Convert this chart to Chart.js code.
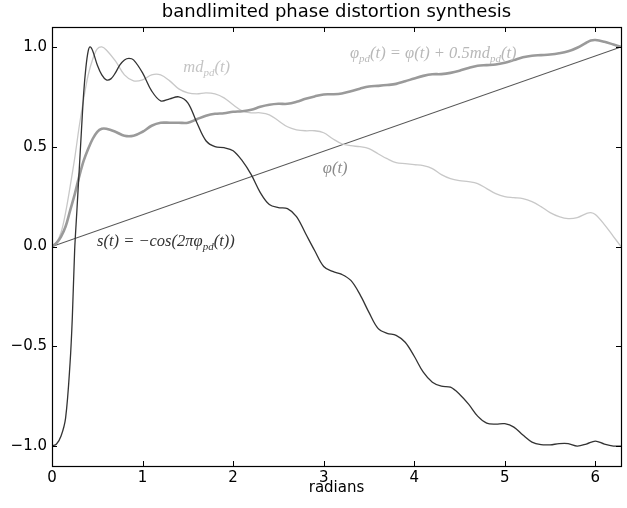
<!DOCTYPE html>
<html>
<head>
<meta charset="utf-8">
<script src="https://cdn.jsdelivr.net/npm/chart.js@4"></script>
<style>
html,body{margin:0;padding:0;background:#fff;}
#wrap{width:627px;height:508px;}
</style>
</head>
<body>
<div id="wrap"><canvas id="c" width="627" height="508"></canvas></div>
<script>
const titleText = "bandlimited phase distortion synthesis";
const xLabel = "radians";
const xTicks = [0, 1, 2, 3, 4, 5, 6];
const yTicks = [-1.0, -0.5, 0.0, 0.5, 1.0];

// phi(t)
const tPhi = [0, 6.2832];
const phiVals = [0, 1];

// md_pd(t) and phi_pd(t)
const tMd = [0,0.05,0.1,0.15,0.2,0.25,0.3,0.35,0.4,0.45,0.5,0.55,0.6,0.7,0.8,0.9,1.0,1.1,1.2,1.3,1.4,1.5,1.6,1.7,1.8,1.9,2.0,2.1,2.2,2.3,2.4,2.5,2.6,2.7,2.8,2.9,3.0,3.1,3.2,3.3,3.4,3.5,3.6,3.7,3.8,3.9,4.0,4.1,4.2,4.3,4.4,4.5,4.6,4.7,4.8,4.9,5.0,5.1,5.2,5.3,5.4,5.5,5.6,5.7,5.8,5.9,5.95,6.0,6.1,6.2,6.2832];
const mdVals = [0,0.02,0.07,0.17,0.30,0.44,0.60,0.74,0.86,0.94,0.99,1.0,0.985,0.93,0.86,0.83,0.835,0.86,0.86,0.83,0.79,0.77,0.765,0.77,0.765,0.745,0.71,0.68,0.67,0.67,0.66,0.63,0.60,0.585,0.58,0.58,0.57,0.54,0.515,0.505,0.50,0.49,0.465,0.44,0.42,0.415,0.41,0.405,0.39,0.36,0.34,0.33,0.325,0.315,0.29,0.265,0.25,0.245,0.24,0.225,0.20,0.17,0.15,0.14,0.145,0.165,0.17,0.16,0.11,0.05,0.0];
const pdVals = [0,0.018,0.05,0.10,0.18,0.26,0.35,0.43,0.49,0.54,0.575,0.59,0.59,0.575,0.555,0.555,0.575,0.605,0.62,0.62,0.62,0.62,0.638,0.655,0.665,0.668,0.675,0.678,0.685,0.70,0.71,0.715,0.715,0.725,0.74,0.752,0.762,0.763,0.767,0.778,0.791,0.802,0.805,0.809,0.815,0.828,0.842,0.855,0.863,0.864,0.870,0.881,0.895,0.906,0.909,0.912,0.921,0.934,0.948,0.956,0.959,0.962,0.968,0.978,0.996,1.021,1.032,1.035,1.026,1.012,1.0];

// s(t)
const tS = [0,0.05,0.1,0.15,0.2,0.225,0.25,0.275,0.3,0.325,0.35,0.375,0.4,0.42,0.45,0.5,0.55,0.6,0.65,0.7,0.75,0.8,0.85,0.9,1.0,1.1,1.2,1.3,1.4,1.5,1.6,1.7,1.8,1.9,2.0,2.1,2.2,2.3,2.4,2.5,2.6,2.7,2.8,2.9,3.0,3.1,3.2,3.3,3.4,3.5,3.6,3.7,3.8,3.9,4.0,4.1,4.2,4.3,4.4,4.5,4.6,4.7,4.8,4.9,5.0,5.1,5.2,5.3,5.4,5.5,5.6,5.7,5.8,5.9,6.0,6.1,6.2,6.2832];
const sVals = [-1.0,-0.99,-0.95,-0.86,-0.58,-0.35,-0.02,0.18,0.38,0.58,0.77,0.90,0.98,1.0,0.98,0.91,0.86,0.835,0.84,0.87,0.91,0.935,0.943,0.935,0.87,0.78,0.73,0.74,0.75,0.72,0.62,0.53,0.50,0.495,0.48,0.43,0.36,0.27,0.21,0.195,0.19,0.15,0.065,-0.02,-0.10,-0.125,-0.14,-0.17,-0.24,-0.33,-0.41,-0.435,-0.445,-0.48,-0.55,-0.63,-0.68,-0.70,-0.705,-0.74,-0.79,-0.85,-0.885,-0.89,-0.888,-0.905,-0.945,-0.98,-0.993,-0.994,-0.988,-0.988,-1.0,-0.99,-0.975,-0.99,-1.0,-1.0];

const pts = (xs, ys) => xs.map((x, i) => ({x: x, y: ys[i]}));

const labels = [
  {x: 1.45, y: 0.872, color: '#c4c4c4', parts: [['md'], ['pd', 1], ['(t)']]},
  {x: 3.29, y: 0.947, color: '#b8b8b8', parts: [['\u03c6'], ['pd', 1], ['(t) = \u03c6(t) + 0.5md'], ['pd', 1], ['(t)']]},
  {x: 2.99, y: 0.366, color: '#8a8a8a', parts: [['\u03c6(t)']]},
  {x: 0.497, y: 0.005, color: '#333333', parts: [['s(t) = \u2212cos(2\u03c0\u03c6'], ['pd', 1], ['(t))']]}
];

const MAIN_FONT = 'italic 16.5px "Liberation Serif", "DejaVu Serif", serif';
const SUB_FONT = 'italic 11px "Liberation Serif", "DejaVu Serif", serif';

const decor = {
  id: 'decor',
  afterDatasetsDraw(chart) {
    const ctx = chart.ctx, a = chart.chartArea;
    const xs = chart.scales.x, ys = chart.scales.y;
    ctx.save();
    ctx.strokeStyle = '#000';
    ctx.lineWidth = 1;
    ctx.beginPath();
    const L = 5;
    xTicks.forEach(v => {
      const px = Math.round(xs.getPixelForValue(v)) + 0.5;
      ctx.moveTo(px, a.bottom); ctx.lineTo(px, a.bottom - L);
      ctx.moveTo(px, a.top); ctx.lineTo(px, a.top + L);
    });
    yTicks.forEach(v => {
      const py = Math.round(ys.getPixelForValue(v)) + 0.5;
      ctx.moveTo(a.left, py); ctx.lineTo(a.left + L, py);
      ctx.moveTo(a.right, py); ctx.lineTo(a.right - L, py);
    });
    ctx.stroke();
    ctx.lineWidth = 1.2;
    ctx.strokeRect(Math.round(a.left) + 0.5, Math.round(a.top) + 0.5, Math.round(a.right - a.left), Math.round(a.bottom - a.top));

    // annotations
    labels.forEach(lb => {
      let px = xs.getPixelForValue(lb.x);
      const py = ys.getPixelForValue(lb.y);
      ctx.fillStyle = lb.color;
      ctx.textBaseline = 'alphabetic';
      ctx.textAlign = 'left';
      lb.parts.forEach(p => {
        if (p[1]) {
          ctx.font = SUB_FONT;
          ctx.fillText(p[0], px, py + 4);
        } else {
          ctx.font = MAIN_FONT;
          ctx.fillText(p[0], px, py);
        }
        px += ctx.measureText(p[0]).width;
      });
    });

    // title
    ctx.fillStyle = '#000';
    ctx.font = '18px "DejaVu Sans", sans-serif';
    ctx.textAlign = 'center';
    ctx.textBaseline = 'alphabetic';
    ctx.fillText(titleText, (a.left + a.right) / 2, 17);
    ctx.restore();
  }
};

new Chart(document.getElementById('c'), {
  type: 'line',
  data: {
    datasets: [
      {label: 's', data: pts(tS, sVals), borderColor: '#333333', borderWidth: 1.3, order: 0, tension: 0.35},
      {label: 'phi_pd', data: pts(tMd, pdVals), borderColor: '#9a9a9a', borderWidth: 2.6, order: 1, tension: 0.35},
      {label: 'md_pd', data: pts(tMd, mdVals), borderColor: '#c8c8c8', borderWidth: 1.3, order: 2, tension: 0.35},
      {label: 'phi', data: pts(tPhi, phiVals), borderColor: '#555555', borderWidth: 1.1, order: 3}
    ]
  },
  options: {
    responsive: false,
    animation: false,
    layout: {padding: {top: 27, right: 6, left: 0, bottom: 0}},
    elements: {point: {radius: 0}, line: {fill: false}},
    plugins: {legend: {display: false}, tooltip: {enabled: false}, title: {display: false}},
    scales: {
      x: {
        type: 'linear', min: 0, max: 6.2832,
        afterBuildTicks: s => { s.ticks = xTicks.map(v => ({value: v})); },
        afterFit: s => { s.height = 42; },
        grid: {display: false, drawTicks: false, tickLength: 0}, border: {display: false},
        ticks: {color: '#000', font: {family: '"DejaVu Sans"', size: 15}, padding: 3, maxRotation: 0,
                callback: v => String(v)},
        title: {display: true, text: xLabel, color: '#000', font: {family: '"DejaVu Sans"', size: 15}, padding: {top: 0, bottom: 11}}
      },
      y: {
        type: 'linear', min: -1.1, max: 1.1,
        afterBuildTicks: s => { s.ticks = yTicks.map(v => ({value: v})); },
        afterFit: s => { s.width = 52; },
        grid: {display: false, drawTicks: false, tickLength: 0}, border: {display: false},
        ticks: {color: '#000', font: {family: '"DejaVu Sans"', size: 15}, padding: 5,
                callback: v => v.toFixed(1).replace('-', '\u2212')}
      }
    }
  },
  plugins: [decor]
});
</script>
</body>
</html>
